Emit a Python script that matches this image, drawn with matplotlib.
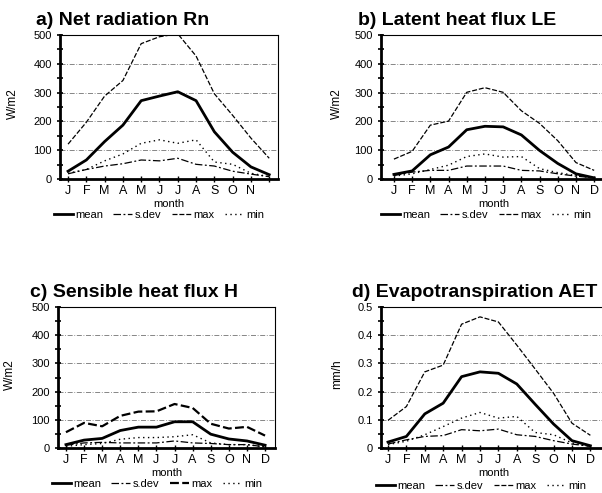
import numpy as np
import matplotlib
matplotlib.use("Agg")
import matplotlib.pyplot as plt
from matplotlib.ticker import MultipleLocator

plt.rcParams['font.family'] = ['Liberation Sans', 'DejaVu Sans']

months = ['J', 'F', 'M', 'A', 'M', 'J', 'J', 'A', 'S', 'O', 'N', 'D']

# a) net radiation Rn (W/m2)
rn_mean = [27, 66, 130, 187, 272, 288, 303, 272, 164, 93, 42, 15]
rn_sdev = [18, 33, 45, 53, 66, 63, 72, 51, 45, 27, 17, 8]
rn_max = [121, 197, 288, 342, 470, 494, 504, 427, 296, 221, 142, 72]
rn_min = [20, 33, 63, 87, 124, 136, 124, 136, 59, 51, 20, 8]

# b) latent heat flux LE (W/m2)
le_mean = [16, 28, 84, 111, 171, 183, 181, 153, 99, 54, 18, 4]
le_sdev = [12, 24, 30, 30, 45, 45, 45, 30, 28, 18, 10, 4]
le_max = [69, 96, 187, 201, 301, 317, 301, 237, 193, 133, 57, 30]
le_min = [10, 18, 33, 48, 78, 87, 76, 78, 36, 22, 12, 4]

# c) sensible heat flux H (W/m2)
h_mean = [12, 28, 34, 62, 74, 74, 93, 93, 49, 32, 25, 10]
h_sdev = [10, 18, 20, 18, 18, 18, 25, 18, 16, 12, 12, 4]
h_max = [56, 89, 77, 114, 129, 130, 156, 142, 86, 69, 75, 44]
h_min = [6, 12, 16, 31, 37, 37, 40, 47, 18, 12, 12, 4]

# d) evapotranspiration AET (mm/h)
aet_mean = [0.021, 0.041, 0.121, 0.159, 0.253, 0.270, 0.265, 0.227, 0.155, 0.085, 0.026, 0.008]
aet_sdev = [0.014, 0.029, 0.041, 0.044, 0.065, 0.061, 0.067, 0.047, 0.041, 0.026, 0.014, 0.006]
aet_max = [0.098, 0.147, 0.270, 0.294, 0.439, 0.465, 0.447, 0.365, 0.280, 0.194, 0.088, 0.045]
aet_min = [0.012, 0.024, 0.047, 0.076, 0.106, 0.126, 0.106, 0.112, 0.055, 0.047, 0.018, 0.006]

fig = plt.figure(figsize=(6.02, 4.93), dpi=100)
W, H = 602.0, 493.0


def make_axes(x0, y0, x1, y1):
    return fig.add_axes([x0 / W, 1 - y1 / H, (x1 - x0) / W, (y1 - y0) / H])


def panel(ax, title, mean, sdev, vmax, vmin, ylabel, ytop, xlim, labels, title_x,
          ylab_x, leg_xy, max_lw=0.9):
    x = np.arange(12)
    ax.plot(x, mean, color='black', lw=2.0, label='mean')
    ax.plot(x, sdev, color='black', lw=0.9, ls=(0, (6, 2, 1.5, 2)), label='s.dev')
    ax.plot(x, vmax, color='black', lw=max_lw, ls=(0, (4, 1.5)), label='max')
    ax.plot(x, vmin, color='black', lw=1.0, ls=(0, (1, 2.5)), label='min')

    ax.set_xlim(*xlim)
    ax.set_ylim(0, ytop)
    ax.set_xticks(x)
    ax.set_xticklabels(labels, fontsize=9)
    ax.yaxis.set_major_locator(MultipleLocator(ytop / 5))
    ax.yaxis.set_minor_locator(MultipleLocator(ytop / 10))
    if ytop < 1:
        ax.set_yticks(np.arange(6) * 0.1)
        ax.set_yticklabels(['0'] + ['%.1f' % v for v in np.arange(1, 6) * 0.1])
    ax.tick_params(axis='y', which='both', direction='inout', length=5, width=1.2,
                   labelsize=8)
    ax.tick_params(axis='x', direction='inout', length=5, width=1.0, pad=2)
    ax.grid(axis='y', which='major', color='0.45', lw=0.6, ls=(0, (6, 2, 1, 2)))
    ax.spines['left'].set_linewidth(2.0)
    ax.spines['bottom'].set_linewidth(2.0)
    ax.spines['top'].set_linewidth(0.8)
    ax.spines['right'].set_linewidth(0.8)
    ax.set_ylabel(ylabel, fontsize=8.5)
    ax.yaxis.set_label_coords(ylab_x, 0.52)
    ax.set_xlabel('month', fontsize=8, labelpad=1)
    ax.text(title_x, 1.04, title, transform=ax.transAxes, fontsize=14,
            fontweight='bold', ha='left', va='bottom')
    ax.legend(loc='center', bbox_to_anchor=(leg_xy[0] / W, 1 - leg_xy[1] / H),
              bbox_transform=fig.transFigure, ncol=4, frameon=False,
              fontsize=8, handlelength=1.7, handletextpad=0.25, columnspacing=0.9,
              borderaxespad=0, borderpad=0)


ax_a = make_axes(60, 35, 278, 179)
ax_b = make_axes(381, 35, 606, 179)
ax_c = make_axes(58, 307, 275, 448)
ax_d = make_axes(381, 307, 606, 448)

panel(ax_a, 'a) Net radiation Rn', rn_mean, rn_sdev, rn_max, rn_min, 'W/m2', 500,
      (-0.44, 11.48), months[:11] + [''], -0.11, -0.19, (159, 215))
panel(ax_b, 'b) Latent heat flux LE', le_mean, le_sdev, le_max, le_min, 'W/m2', 500,
      (-0.71, 11.65), months, -0.10, -0.17, (486, 215))
panel(ax_c, 'c) Sensible heat flux H', h_mean, h_sdev, h_max, h_min, 'W/m2', 500,
      (-0.44, 11.55), months, -0.13, -0.194, (157, 484), max_lw=1.6)
panel(ax_d, 'd) Evapotranspiration AET', aet_mean, aet_sdev, aet_max, aet_min, 'mm/h', 0.5,
      (-0.38, 11.85), months, -0.13, -0.17, (481, 486))

fig.savefig('out.png', dpi=100)
